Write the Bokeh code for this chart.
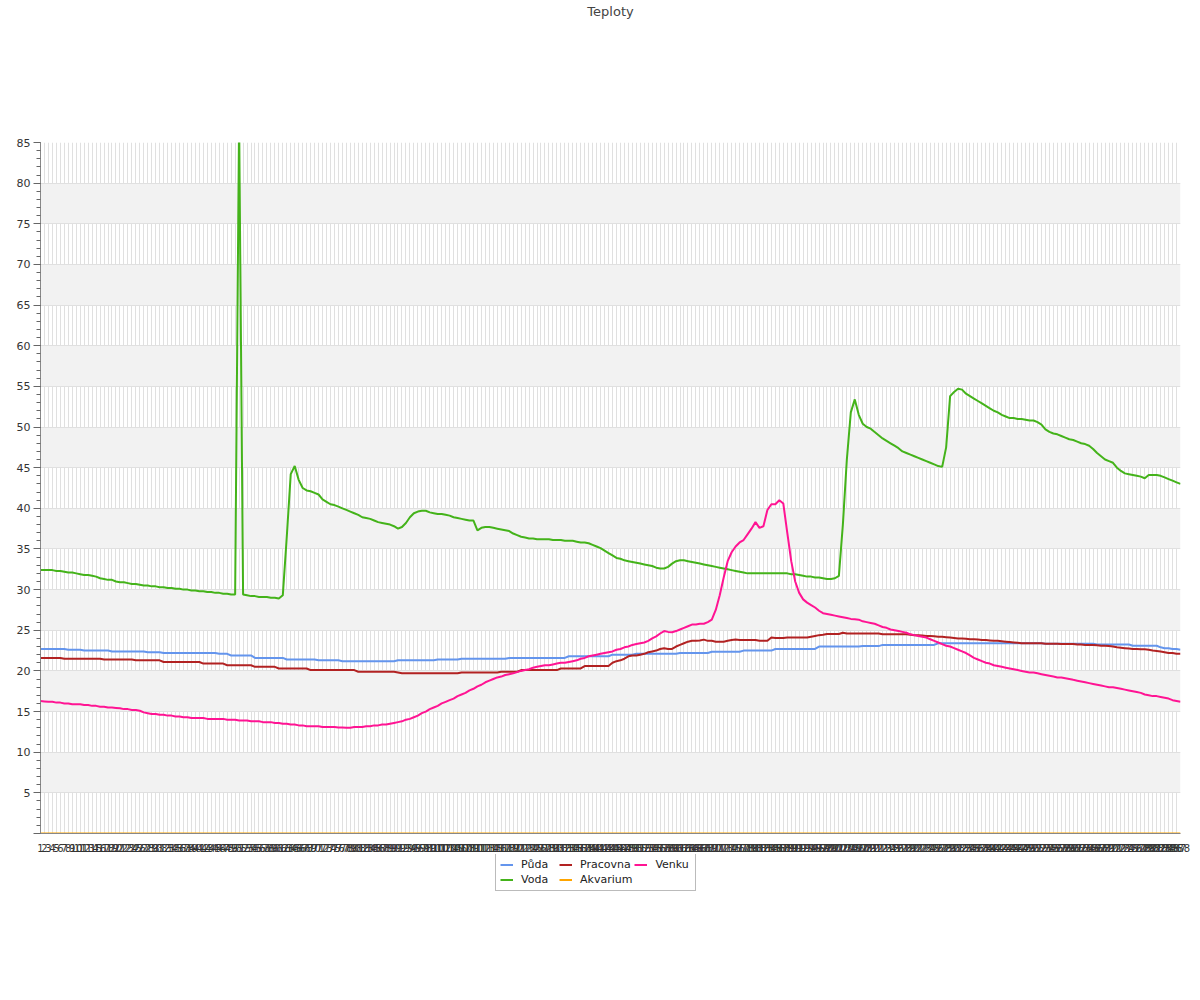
from bokeh.plotting import figure
from bokeh.layouts import column
from bokeh.models import Range1d, FixedTicker, Legend, LegendItem, Label
from bokeh.embed import file_html
from bokeh.resources import INLINE

x_labels = [str(i) for i in range(1, 289)]

puda = [
    22.7, 22.7, 22.7, 22.7, 22.7, 22.7, 22.7, 22.6, 22.6, 22.6,
    22.6, 22.5, 22.5, 22.5, 22.5, 22.5, 22.5, 22.5, 22.4, 22.4,
    22.4, 22.4, 22.4, 22.4, 22.4, 22.4, 22.4, 22.3, 22.3, 22.3,
    22.3, 22.2, 22.2, 22.2, 22.2, 22.2, 22.2, 22.2, 22.2, 22.2,
    22.2, 22.2, 22.2, 22.2, 22.2, 22.1, 22.1, 22.1, 21.9, 21.9,
    21.9, 21.9, 21.9, 21.9, 21.6, 21.6, 21.6, 21.6, 21.6, 21.6,
    21.6, 21.6, 21.4, 21.4, 21.4, 21.4, 21.4, 21.4, 21.4, 21.4,
    21.3, 21.3, 21.3, 21.3, 21.3, 21.3, 21.2, 21.2, 21.2, 21.2,
    21.2, 21.2, 21.2, 21.2, 21.2, 21.2, 21.2, 21.2, 21.2, 21.2,
    21.3, 21.3, 21.3, 21.3, 21.3, 21.3, 21.3, 21.3, 21.3, 21.3,
    21.4, 21.4, 21.4, 21.4, 21.4, 21.4, 21.5, 21.5, 21.5, 21.5,
    21.5, 21.5, 21.5, 21.5, 21.5, 21.5, 21.5, 21.5, 21.6, 21.6,
    21.6, 21.6, 21.6, 21.6, 21.6, 21.6, 21.6, 21.6, 21.6, 21.6,
    21.6, 21.6, 21.6, 21.8, 21.8, 21.8, 21.8, 21.8, 21.8, 21.8,
    21.8, 21.8, 21.8, 21.8, 22.0, 22.0, 22.0, 22.0, 22.0, 22.0,
    22.1, 22.1, 22.1, 22.1, 22.1, 22.1, 22.1, 22.1, 22.1, 22.1,
    22.1, 22.2, 22.2, 22.2, 22.2, 22.2, 22.2, 22.2, 22.2, 22.35,
    22.35, 22.35, 22.35, 22.35, 22.35, 22.35, 22.35, 22.5, 22.5, 22.5,
    22.5, 22.5, 22.5, 22.5, 22.5, 22.7, 22.7, 22.7, 22.7, 22.7,
    22.7, 22.7, 22.7, 22.7, 22.7, 22.7, 23.0, 23.0, 23.0, 23.0,
    23.0, 23.0, 23.0, 23.0, 23.0, 23.0, 23.0, 23.05, 23.05, 23.05,
    23.05, 23.05, 23.2, 23.2, 23.2, 23.2, 23.2, 23.2, 23.2, 23.2,
    23.2, 23.2, 23.2, 23.2, 23.2, 23.2, 23.4, 23.4, 23.4, 23.4,
    23.4, 23.4, 23.4, 23.4, 23.4, 23.4, 23.4, 23.4, 23.4, 23.4,
    23.4, 23.4, 23.4, 23.4, 23.4, 23.4, 23.4, 23.4, 23.4, 23.4,
    23.4, 23.4, 23.4, 23.35, 23.35, 23.35, 23.35, 23.35, 23.35, 23.35,
    23.35, 23.35, 23.35, 23.35, 23.35, 23.35, 23.25, 23.25, 23.25, 23.25,
    23.25, 23.25, 23.25, 23.25, 23.25, 23.1, 23.1, 23.1, 23.1, 23.1,
    23.1, 23.1, 22.9, 22.8, 22.8, 22.7, 22.7, 22.6,
]

voda = [
    32.4, 32.4, 32.4, 32.4, 32.3, 32.3, 32.2, 32.1, 32.1, 32.0,
    31.9, 31.8, 31.8, 31.7, 31.6, 31.4, 31.3, 31.2, 31.2, 31.0,
    30.9, 30.9, 30.8, 30.7, 30.7, 30.6, 30.5, 30.5, 30.4, 30.4,
    30.3, 30.3, 30.2, 30.2, 30.1, 30.1, 30.0, 30.0, 29.9, 29.9,
    29.8, 29.8, 29.7, 29.7, 29.6, 29.6, 29.5, 29.5, 29.4, 29.4,
    88.0, 29.4, 29.3, 29.2, 29.2, 29.1, 29.1, 29.1, 29.0, 29.0,
    28.9, 29.3, 36.5, 44.2, 45.2, 43.5, 42.5, 42.2, 42.1, 41.9,
    41.7, 41.1, 40.8, 40.5, 40.4, 40.2, 40.0, 39.8, 39.6, 39.4,
    39.2, 38.9, 38.8, 38.7, 38.5, 38.3, 38.2, 38.1, 38.0, 37.8,
    37.5, 37.7, 38.2, 38.9, 39.4, 39.6, 39.7, 39.7, 39.5, 39.4,
    39.3, 39.3, 39.2, 39.1, 38.9, 38.8, 38.7, 38.6, 38.5, 38.5,
    37.3, 37.6, 37.7, 37.7, 37.6, 37.5, 37.4, 37.3, 37.2, 36.9,
    36.7, 36.5, 36.4, 36.3, 36.3, 36.2, 36.2, 36.2, 36.2, 36.1,
    36.1, 36.1, 36.0, 36.0, 36.0, 35.9, 35.8, 35.8, 35.7, 35.5,
    35.3, 35.1, 34.8, 34.5, 34.2, 33.9, 33.8, 33.6, 33.5, 33.4,
    33.3, 33.2, 33.1, 33.0, 32.9, 32.7, 32.6, 32.6, 32.8, 33.2,
    33.5, 33.6, 33.6, 33.5, 33.4, 33.3, 33.2, 33.1, 33.0, 32.9,
    32.8, 32.7, 32.6, 32.5, 32.4, 32.3, 32.2, 32.1, 32.0, 32.0,
    32.0, 32.0, 32.0, 32.0, 32.0, 32.0, 32.0, 32.0, 32.0, 31.9,
    31.9, 31.8, 31.7, 31.6, 31.6, 31.5, 31.5, 31.4, 31.3, 31.3,
    31.4, 31.7, 38.0, 46.0, 51.8, 53.4, 51.5, 50.4, 50.0, 49.8,
    49.4, 49.0, 48.6, 48.3, 48.0, 47.7, 47.4, 47.0, 46.8, 46.6,
    46.4, 46.2, 46.0, 45.8, 45.6, 45.4, 45.2, 45.1, 47.5, 53.8,
    54.3, 54.7, 54.6, 54.1, 53.8, 53.5, 53.2, 52.9, 52.6, 52.3,
    52.0, 51.8, 51.5, 51.3, 51.1, 51.1, 51.0, 51.0, 50.9, 50.8,
    50.8, 50.6, 50.3, 49.7, 49.4, 49.2, 49.1, 48.9, 48.7, 48.5,
    48.4, 48.2, 48.0, 47.9, 47.7, 47.3, 46.8, 46.4, 46.0, 45.8,
    45.6, 45.0, 44.6, 44.3, 44.2, 44.1, 44.0, 43.9, 43.7, 44.1,
    44.1, 44.1, 44.0, 43.8, 43.6, 43.4, 43.2, 43.0,
]

pracovna = [
    21.6, 21.6, 21.6, 21.6, 21.6, 21.6, 21.5, 21.5, 21.5, 21.5,
    21.5, 21.5, 21.5, 21.5, 21.5, 21.5, 21.4, 21.4, 21.4, 21.4,
    21.4, 21.4, 21.4, 21.4, 21.3, 21.3, 21.3, 21.3, 21.3, 21.3,
    21.3, 21.1, 21.1, 21.1, 21.1, 21.1, 21.1, 21.1, 21.1, 21.1,
    21.1, 20.9, 20.9, 20.9, 20.9, 20.9, 20.9, 20.7, 20.7, 20.7,
    20.7, 20.7, 20.7, 20.7, 20.5, 20.5, 20.5, 20.5, 20.5, 20.5,
    20.3, 20.3, 20.3, 20.3, 20.3, 20.3, 20.3, 20.3, 20.1, 20.1,
    20.1, 20.1, 20.1, 20.1, 20.1, 20.1, 20.1, 20.1, 20.1, 20.1,
    19.9, 19.9, 19.9, 19.9, 19.9, 19.9, 19.9, 19.9, 19.9, 19.9,
    19.8, 19.7, 19.7, 19.7, 19.7, 19.7, 19.7, 19.7, 19.7, 19.7,
    19.7, 19.7, 19.7, 19.7, 19.7, 19.7, 19.8, 19.8, 19.8, 19.8,
    19.8, 19.8, 19.8, 19.8, 19.8, 19.8, 19.9, 19.9, 19.9, 19.9,
    19.9, 20.1, 20.1, 20.1, 20.1, 20.1, 20.1, 20.1, 20.1, 20.1,
    20.1, 20.3, 20.3, 20.3, 20.3, 20.3, 20.3, 20.6, 20.6, 20.6,
    20.6, 20.6, 20.6, 20.6, 21.0, 21.2, 21.3, 21.5, 21.8, 21.9,
    21.9, 22.0, 22.1, 22.3, 22.4, 22.5, 22.7, 22.8, 22.7, 22.7,
    23.0, 23.2, 23.4, 23.6, 23.7, 23.7, 23.75, 23.85, 23.7, 23.7,
    23.6, 23.6, 23.6, 23.7, 23.8, 23.85, 23.8, 23.8, 23.8, 23.8,
    23.8, 23.7, 23.7, 23.7, 24.1, 24.05, 24.05, 24.05, 24.1, 24.1,
    24.1, 24.1, 24.1, 24.1, 24.2, 24.3, 24.4, 24.45, 24.55, 24.55,
    24.55, 24.55, 24.7, 24.6, 24.6, 24.6, 24.6, 24.6, 24.6, 24.6,
    24.6, 24.6, 24.5, 24.5, 24.5, 24.5, 24.5, 24.5, 24.5, 24.45,
    24.4, 24.4, 24.35, 24.3, 24.3, 24.25, 24.2, 24.2, 24.15, 24.1,
    24.05, 24.0, 24.0, 23.95, 23.9, 23.9, 23.85, 23.8, 23.8, 23.75,
    23.7, 23.7, 23.65, 23.6, 23.55, 23.5, 23.45, 23.4, 23.4, 23.4,
    23.4, 23.4, 23.4, 23.35, 23.35, 23.35, 23.35, 23.3, 23.3, 23.3,
    23.3, 23.25, 23.25, 23.2, 23.2, 23.2, 23.15, 23.1, 23.1, 23.05,
    23.0, 22.9, 22.85, 22.8, 22.75, 22.7, 22.7, 22.65, 22.65, 22.6,
    22.5, 22.45, 22.4, 22.3, 22.2, 22.2, 22.1, 22.1,
]

akvarium = [
    0, 0, 0, 0, 0, 0, 0, 0, 0, 0, 0, 0, 0, 0, 0, 0, 0, 0, 0, 0, 0, 0, 0, 0,
    0, 0, 0, 0, 0, 0, 0, 0, 0, 0, 0, 0, 0, 0, 0, 0, 0, 0, 0, 0, 0, 0, 0, 0,
    0, 0, 0, 0, 0, 0, 0, 0, 0, 0, 0, 0, 0, 0, 0, 0, 0, 0, 0, 0, 0, 0, 0, 0,
    0, 0, 0, 0, 0, 0, 0, 0, 0, 0, 0, 0, 0, 0, 0, 0, 0, 0, 0, 0, 0, 0, 0, 0,
    0, 0, 0, 0, 0, 0, 0, 0, 0, 0, 0, 0, 0, 0, 0, 0, 0, 0, 0, 0, 0, 0, 0, 0,
    0, 0, 0, 0, 0, 0, 0, 0, 0, 0, 0, 0, 0, 0, 0, 0, 0, 0, 0, 0, 0, 0, 0, 0,
    0, 0, 0, 0, 0, 0, 0, 0, 0, 0, 0, 0, 0, 0, 0, 0, 0, 0, 0, 0, 0, 0, 0, 0,
    0, 0, 0, 0, 0, 0, 0, 0, 0, 0, 0, 0, 0, 0, 0, 0, 0, 0, 0, 0, 0, 0, 0, 0,
    0, 0, 0, 0, 0, 0, 0, 0, 0, 0, 0, 0, 0, 0, 0, 0, 0, 0, 0, 0, 0, 0, 0, 0,
    0, 0, 0, 0, 0, 0, 0, 0, 0, 0, 0, 0, 0, 0, 0, 0, 0, 0, 0, 0, 0, 0, 0, 0,
    0, 0, 0, 0, 0, 0, 0, 0, 0, 0, 0, 0, 0, 0, 0, 0, 0, 0, 0, 0, 0, 0, 0, 0,
    0, 0, 0, 0, 0, 0, 0, 0, 0, 0, 0, 0, 0, 0, 0, 0, 0, 0, 0, 0, 0, 0, 0, 0,
]

venku = [
    16.3, 16.25, 16.2, 16.2, 16.1, 16.1, 16.0, 16.0, 15.9, 15.9,
    15.9, 15.8, 15.8, 15.7, 15.7, 15.6, 15.6, 15.5, 15.5, 15.45,
    15.4, 15.3, 15.3, 15.2, 15.2, 15.1, 14.9, 14.8, 14.7, 14.7,
    14.6, 14.6, 14.5, 14.5, 14.4, 14.4, 14.3, 14.3, 14.2, 14.2,
    14.2, 14.2, 14.1, 14.1, 14.1, 14.1, 14.1, 14.0, 14.0, 14.0,
    13.9, 13.9, 13.9, 13.8, 13.8, 13.8, 13.7, 13.7, 13.7, 13.6,
    13.6, 13.5, 13.5, 13.4, 13.4, 13.3, 13.3, 13.2, 13.2, 13.2,
    13.2, 13.1, 13.1, 13.1, 13.1, 13.05, 13.05, 13.0, 13.0, 13.1,
    13.1, 13.1, 13.2, 13.2, 13.3, 13.3, 13.4, 13.4, 13.5, 13.6,
    13.7, 13.8, 14.0, 14.1, 14.3, 14.5, 14.8, 15.0, 15.3, 15.5,
    15.7, 16.0, 16.2, 16.4, 16.6, 16.9, 17.1, 17.3, 17.6, 17.8,
    18.1, 18.3, 18.6, 18.8, 19.0, 19.2, 19.3, 19.5, 19.6, 19.7,
    19.85, 20.0, 20.1, 20.2, 20.4, 20.5, 20.6, 20.7, 20.7, 20.8,
    20.9, 21.0, 21.0, 21.1, 21.2, 21.3, 21.5, 21.6, 21.8, 21.9,
    22.0, 22.1, 22.2, 22.3, 22.4, 22.6, 22.7, 22.9, 23.0, 23.2,
    23.3, 23.4, 23.5, 23.7, 24.0, 24.25, 24.6, 24.9, 24.8, 24.75,
    24.9, 25.1, 25.3, 25.5, 25.7, 25.7, 25.8, 25.8, 26.0, 26.3,
    27.5, 29.3, 31.5, 33.5, 34.6, 35.3, 35.8, 36.1, 36.8, 37.5,
    38.3, 37.6, 37.8, 39.8, 40.5, 40.5, 41.0, 40.6, 37.0, 33.5,
    31.0, 29.6, 28.8, 28.4, 28.1, 27.8, 27.4, 27.1, 27.0, 26.9,
    26.8, 26.7, 26.6, 26.5, 26.4, 26.35, 26.3, 26.1, 26.0, 25.9,
    25.8, 25.6, 25.4, 25.3, 25.1, 25.0, 24.9, 24.8, 24.7, 24.5,
    24.4, 24.3, 24.2, 24.1, 23.9, 23.7, 23.5, 23.3, 23.1, 23.0,
    22.8, 22.6, 22.4, 22.2, 21.9, 21.6, 21.4, 21.2, 21.0, 20.9,
    20.7, 20.6, 20.5, 20.4, 20.3, 20.2, 20.1, 20.0, 19.9, 19.8,
    19.8, 19.7, 19.6, 19.5, 19.4, 19.3, 19.2, 19.2, 19.1, 19.0,
    18.9, 18.8, 18.7, 18.6, 18.5, 18.4, 18.3, 18.2, 18.1, 18.0,
    18.0, 17.9, 17.8, 17.7, 17.6, 17.5, 17.4, 17.3, 17.1, 17.0,
    16.9, 16.9, 16.8, 16.7, 16.6, 16.4, 16.3, 16.2,
]

series_names = ["Půda", "Voda", "Pracovna", "Akvarium", "Venku"]
series_values = [puda, voda, pracovna, akvarium, venku]
series_colors = ["#6495ed", "#44b31a", "#b22222", "#ffa500", "#ff1493"]

N = len(x_labels)
xs = list(range(N))
W = 1196
FONT = "DejaVu Sans"

# ---- title strip ----
tfig = figure(width=W, height=22, output_backend="svg", toolbar_location=None,
              x_range=Range1d(0, W), y_range=Range1d(0, 22),
              x_axis_location=None, y_axis_location=None, min_border=0)
tfig.outline_line_color = None
tfig.grid.visible = False
tfig.add_layout(Label(x=598, y=11, text="Teploty", text_align="center",
                      text_baseline="middle", text_font=FONT,
                      text_font_size="13px", text_color="#444444"))

# ---- main chart ----
p = figure(frame_width=1140, frame_height=691, output_backend="svg", toolbar_location=None,
           x_range=Range1d(0, N - 1), y_range=Range1d(0, 85),
           min_border_left=40, min_border_right=16, min_border_top=120,
           min_border_bottom=0)
p.outline_line_color = None
p.background_fill_color = "white"
p.border_fill_color = "white"

p.xaxis.ticker = FixedTicker(ticks=xs)
p.xaxis.major_label_overrides = {i: lab for i, lab in enumerate(x_labels)}
p.xaxis.major_tick_line_color = None
p.xaxis.minor_tick_line_color = None
p.xaxis.axis_line_color = "#888888"
p.xaxis.major_label_text_font = FONT
p.xaxis.major_label_text_font_size = "10px"
p.xaxis.major_label_text_color = "#333333"
p.xaxis.major_label_standoff = 4

p.yaxis.ticker = FixedTicker(ticks=list(range(0, 86, 5)), minor_ticks=list(range(0, 86)))
p.yaxis.major_label_overrides = {0: ""}
p.yaxis.axis_line_color = "#888888"
p.yaxis.major_tick_line_color = "#666666"
p.yaxis.minor_tick_line_color = "#666666"
p.yaxis.major_tick_out = 7
p.yaxis.major_tick_in = 0
p.yaxis.minor_tick_out = 4
p.yaxis.minor_tick_in = 0
p.yaxis.major_label_text_font = FONT
p.yaxis.major_label_text_font_size = "11px"
p.yaxis.major_label_text_color = "#333333"
p.yaxis.major_label_standoff = 3

p.xgrid.grid_line_color = "#e0e0e0"
p.ygrid.grid_line_color = "#e0e0e0"
p.ygrid.band_fill_color = "#f2f2f2"
p.ygrid.band_fill_alpha = 1.0

for name, vals, col in zip(series_names, series_values, series_colors):
    p.line(xs, vals, line_color=col, line_width=2)

# ---- legend strip (same series, drawn outside its visible range; only the legend shows) ----
lfig = figure(width=W, height=46, output_backend="svg", toolbar_location=None,
              x_range=Range1d(0, N - 1), y_range=Range1d(200, 201),
              x_axis_location=None, y_axis_location=None, min_border=0)
lfig.outline_line_color = None
lfig.grid.visible = False
items = []
for name, vals, col in zip(series_names, series_values, series_colors):
    r = lfig.line(xs, vals, line_color=col, line_width=2)
    items.append(LegendItem(label=name, renderers=[r]))

legend = Legend(items=items, orientation="vertical", nrows=2, location=(455, 9))
legend.label_text_font = FONT
legend.label_text_font_size = "11px"
legend.label_text_color = "#222222"
legend.border_line_color = "#777777"
legend.border_line_width = 1
legend.background_fill_color = "white"
legend.background_fill_alpha = 1.0
legend.padding = 4
legend.spacing = 2
legend.margin = 0
legend.glyph_width = 13
legend.glyph_height = 13
legend.label_height = 13
legend.label_width = 36
legend.label_standoff = 8
lfig.add_layout(legend)

layout = column(tfig, p, lfig, spacing=0)
open("out.html", "w").write(file_html(layout, INLINE))
